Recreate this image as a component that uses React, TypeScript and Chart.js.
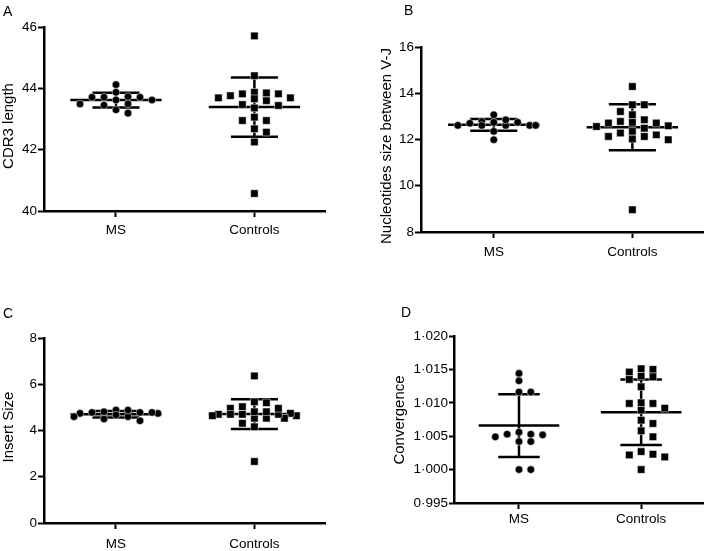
import React, { useEffect, useRef } from 'react';
import { Chart, registerables } from 'chart.js';

Chart.register(...registerables);

// Group names on the x axis
const groups = ['MS', 'Controls'];

// A: CDR3 length
const cdr3MS = [43.71, 43.71, 43.87, 43.49, 43.19, 44.12, 43.62, 43.45, 43.62, 43.3, 43.73, 43.49, 43.71];
const cdr3Controls = [45.71, 44.41, 43.87, 43.82, 43.6, 43.69, 43.69, 43.44, 43.82, 43.36, 43.76, 43.47, 43.66, 43.85, 43.06, 42.95, 42.95, 42.68, 42.57, 42.25, 40.57];
const cdr3Ticks = [40, 42, 44, 46];
const cdr3TickLabels = ['40', '42', '44', '46'];

// B: nucleotides between V and J
const nucMS = [12.78, 12.74, 12.61, 12.61, 12.61, 12.74, 12.35, 11.99, 13.07, 12.61, 12.61, 12.85, 12.7];
const nucControls = [14.29, 13.5, 13.21, 13.5, 12.85, 12.49, 12.13, 12.71, 12.35, 12.59, 12.13, 12.74, 11.99, 12.78, 12.02, 13.07, 12.56, 12.2, 12.71, 12.28, 8.96];
const nucTicks = [8, 10, 12, 14, 16];
const nucTickLabels = ['8', '10', '12', '14', '16'];

// C: insert size
const insertMS = [4.81, 4.6, 4.78, 4.78, 4.74, 4.88, 4.42, 4.74, 4.6, 4.67, 4.88, 4.5, 4.78];
const insertControls = [6.36, 5.24, 4.7, 4.64, 4.74, 5.03, 4.53, 4.7, 5.2, 4.81, 4.53, 4.16, 4.81, 4.53, 4.7, 4.31, 4.96, 4.96, 4.64, 4.7, 2.66];
const insertTicks = [0, 2, 4, 6, 8];
const insertTickLabels = ['0', '2', '4', '6', '8'];

// D: convergence
const convMS = [1.0144, 1.0133, 1.0116, 1.0116, 1.0052, 1.0053, 1.0049, 1.0042, 1.0053, 1.0042, 1.0056, 1.0, 1.0];
const convControls = [1.015, 1.014, 1.0146, 1.0135, 1.0139, 1.0151, 1.0124, 1.0099, 1.0092, 1.0099, 1.0089, 1.01, 1.0069, 1.0058, 1.0074, 1.0049, 1.0027, 1.0022, 1.0019, 1.0023, 1.0];
const convTicks = [0.995, 1.0, 1.005, 1.01, 1.015, 1.02];
const convTickLabels = ['0·995', '1·000', '1·005', '1·010', '1·015', '1·020'];

const FONT = '"Liberation Sans", Arial, Helvetica, sans-serif';

type Area = { l: number; t: number; r: number; b: number };
type PanelCfg = {
  letter: string;
  title: string;
  series: number[][];
  ticks: number[];
  tickLabels: string[];
  x: number;
  y: number;
  w: number;
  h: number;
  area: Area;
  xMin: number;
  xMax: number;
  xLabelPad: number;
  yTickLen: number;
  letterPos: [number, number];
  titlePos: [number, number];
};

const panels: PanelCfg[] = [
  {
    letter: 'A', title: 'CDR3 length', series: [cdr3MS, cdr3Controls],
    ticks: cdr3Ticks, tickLabels: cdr3TickLabels,
    x: 0, y: 0, w: 354, h: 275, area: { l: 44, t: 27, r: 325, b: 211 },
    xMin: 0.48, xMax: 2.51, xLabelPad: 5, yTickLen: 6,
    letterPos: [3, 16], titlePos: [9, 126],
  },
  {
    letter: 'B', title: 'Nucleotides size between V-J', series: [nucMS, nucControls],
    ticks: nucTicks, tickLabels: nucTickLabels,
    x: 354, y: 0, w: 355, h: 275, area: { l: 67, t: 47, r: 350, b: 232 },
    xMin: 0.475, xMax: 2.511, xLabelPad: 6, yTickLen: 6,
    letterPos: [50, 15], titlePos: [33, 146],
  },
  {
    letter: 'C', title: 'Insert Size', series: [insertMS, insertControls],
    ticks: insertTicks, tickLabels: insertTickLabels,
    x: 0, y: 275, w: 354, h: 276, area: { l: 44, t: 63, r: 325, b: 248 },
    xMin: 0.48, xMax: 2.51, xLabelPad: 7, yTickLen: 6,
    letterPos: [3, 43], titlePos: [9, 152],
  },
  {
    letter: 'D', title: 'Convergence', series: [convMS, convControls],
    ticks: convTicks, tickLabels: convTickLabels,
    x: 354, y: 275, w: 355, h: 276, area: { l: 100, t: 61, r: 353, b: 228 },
    xMin: 0.468, xMax: 2.508, xLabelPad: 2, yTickLen: 5,
    letterPos: [47, 42], titlePos: [46, 145],
  },
];

const mean = (a: number[]) => a.reduce((s, v) => s + v, 0) / a.length;
const stdev = (a: number[]) => {
  const m = mean(a);
  return Math.sqrt(a.reduce((s, v) => s + (v - m) ** 2, 0) / (a.length - 1));
};

// Scatter-dot spreading: each point takes the free slot nearest the group centre,
// within a fixed half-width; when every slot is taken, the least crowded one wins.
function spread(values: number[], pxPerX: number, pxPerY: number): number[] {
  const step = 6;
  const maxSlot = 7;
  const minDx = 12;
  const minDy = 7;
  const slots: number[] = [0];
  for (let k = 1; k <= maxSlot; k++) slots.push(k * step, -k * step);
  const order = values.map((_, i) => i).sort((a, b) => values[b] - values[a]);
  const placed: { x: number; y: number }[] = [];
  const offsets = new Array(values.length).fill(0);
  for (const i of order) {
    const y = values[i] * pxPerY;
    let best = 0;
    let bestPenalty = Infinity;
    for (const x of slots) {
      let penalty = 0;
      for (const p of placed) {
        const ox = minDx - Math.abs(p.x - x);
        const oy = minDy - Math.abs(p.y - y);
        if (ox > 0 && oy > 0) penalty += ox * oy;
      }
      if (penalty < bestPenalty - 1e-9) {
        bestPenalty = penalty;
        best = x;
        if (penalty === 0) break;
      }
    }
    placed.push({ x: best, y });
    offsets[i] = best / pxPerX;
  }
  return offsets;
}

const panelText = {
  id: 'panelText',
  afterDraw(chart: any, _args: any, opts: any) {
    const { ctx } = chart;
    ctx.save();
    ctx.fillStyle = '#000';
    ctx.font = `14px ${FONT}`;
    ctx.textAlign = 'left';
    ctx.textBaseline = 'alphabetic';
    ctx.fillText(opts.letter, opts.letterPos[0], opts.letterPos[1]);
    ctx.translate(opts.titlePos[0], opts.titlePos[1]);
    ctx.rotate(-Math.PI / 2);
    ctx.textAlign = 'center';
    ctx.textBaseline = 'middle';
    ctx.font = `15px ${FONT}`;
    ctx.fillText(opts.title, 0, 0);
    ctx.restore();
  },
};

function buildConfig(cfg: PanelCfg): any {
  const { area } = cfg;
  const yMin = cfg.ticks[0];
  const yMax = cfg.ticks[cfg.ticks.length - 1];
  const pxPerX = (area.r - area.l) / (cfg.xMax - cfg.xMin);
  const pxPerY = (area.b - area.t) / (yMax - yMin);
  const datasets: any[] = [];
  const seg = (pts: { x: number; y: number }[]) => ({
    data: pts,
    showLine: true,
    borderColor: '#000',
    borderWidth: 2.5,
    borderCapStyle: 'butt',
    pointRadius: 0,
    order: 1,
  });
  cfg.series.forEach((vals, g) => {
    const c = g + 1;
    const m = mean(vals);
    const s = stdev(vals);
    datasets.push(seg([{ x: c - 0.33, y: m }, { x: c + 0.33, y: m }]));
    datasets.push(seg([{ x: c, y: m - s }, { x: c, y: m + s }]));
    datasets.push(seg([{ x: c - 0.17, y: m + s }, { x: c + 0.17, y: m + s }]));
    datasets.push(seg([{ x: c - 0.17, y: m - s }, { x: c + 0.17, y: m - s }]));
    const offs = spread(vals, pxPerX, pxPerY);
    datasets.push({
      data: vals.map((v, i) => ({ x: c + offs[i], y: v })),
      pointStyle: g === 0 ? 'circle' : 'rect',
      pointRadius: g === 0 ? 3.8 : 5.3,
      backgroundColor: '#000',
      borderColor: '#fff',
      borderWidth: 0.5,
      showLine: false,
      order: 0,
    });
  });

  const tickFont = { family: FONT, size: 13.5 };
  return {
    type: 'scatter',
    data: { datasets },
    plugins: [panelText],
    options: {
      responsive: false,
      animation: false,
      layout: { padding: { left: 0, top: area.t, right: cfg.w - area.r, bottom: 0 } },
      plugins: {
        legend: { display: false },
        tooltip: { enabled: false },
        panelText: { letter: cfg.letter, title: cfg.title, letterPos: cfg.letterPos, titlePos: cfg.titlePos },
      },
      scales: {
        x: {
          type: 'linear',
          min: cfg.xMin,
          max: cfg.xMax,
          afterBuildTicks: (s: any) => {
            s.ticks = groups.map((_, i) => ({ value: i + 1 }));
          },
          afterFit: (s: any) => {
            s.height = cfg.h - area.b;
          },
          ticks: {
            callback: (v: number) => groups[Math.round(v) - 1],
            font: tickFont,
            color: '#000',
            padding: cfg.xLabelPad,
            autoSkip: false,
            maxRotation: 0,
          },
          grid: { display: true, drawOnChartArea: false, drawTicks: true, tickLength: 6, tickWidth: 2, tickColor: '#000' },
          border: { display: true, color: '#000', width: 2.5 },
        },
        y: {
          type: 'linear',
          min: yMin,
          max: yMax,
          afterBuildTicks: (s: any) => {
            s.ticks = cfg.ticks.map((v) => ({ value: v }));
          },
          afterFit: (s: any) => {
            s.width = area.l;
          },
          ticks: {
            callback: (_v: number, i: number) => cfg.tickLabels[i],
            font: tickFont,
            color: '#000',
            padding: 1,
            autoSkip: false,
          },
          grid: { display: true, drawOnChartArea: false, drawTicks: true, tickLength: cfg.yTickLen, tickWidth: 2, tickColor: '#000' },
          border: { display: true, color: '#000', width: 2.5 },
        },
      },
    },
  };
}

function Panel({ cfg }: { cfg: PanelCfg }) {
  const ref = useRef<HTMLCanvasElement>(null);
  useEffect(() => {
    const chart = new Chart(ref.current as HTMLCanvasElement, buildConfig(cfg));
    return () => chart.destroy();
  }, [cfg]);
  return (
    <canvas
      ref={ref}
      width={cfg.w}
      height={cfg.h}
      style={{ position: 'absolute', left: cfg.x, top: cfg.y, width: cfg.w, height: cfg.h, display: 'block' }}
    />
  );
}

export default function App() {
  useEffect(() => {
    document.body.style.margin = '0';
  }, []);
  return (
    <div style={{ position: 'relative', width: 709, height: 551, background: '#fff', overflow: 'hidden' }}>
      {panels.map((p) => (
        <Panel key={p.letter} cfg={p} />
      ))}
    </div>
  );
}
